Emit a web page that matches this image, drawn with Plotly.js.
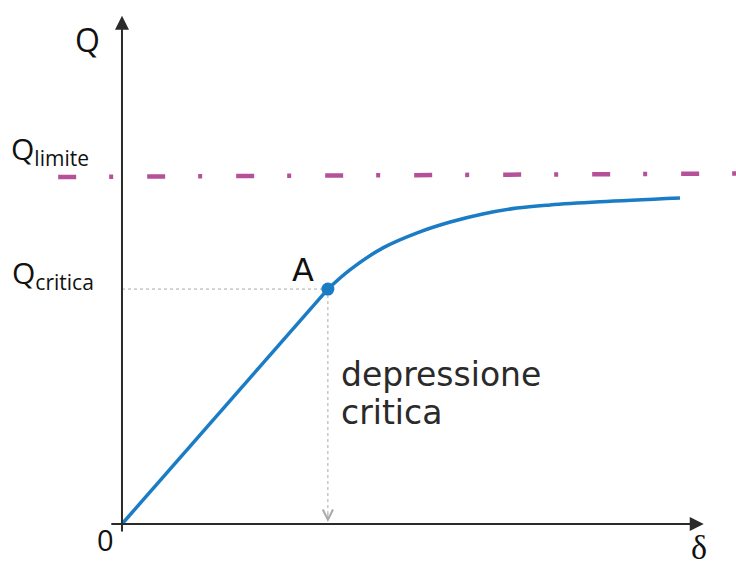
<!DOCTYPE html>
<html><head><meta charset="utf-8">
<script src="https://cdn.plot.ly/plotly-3.0.1.min.js"></script>
<style>html,body{margin:0;padding:0;background:#fff}#chart{width:736px;height:561px}</style>
</head><body><div id="chart"></div>
<script>
// Linear branch: origin to critical point A
const linearDelta = [0, 35.5];
const linearQ = [0, 67.3];
// Curved branch after A
const curveDelta = [35.5, 39.3, 45.0, 50.9, 56.6, 62.2, 68.1, 73.8, 82.4, 96.2];
const curveQ = [67.3, 72.8, 79.1, 83.4, 86.5, 88.8, 90.5, 91.4, 92.3, 93.4];
// Critical point A
const pointADelta = [35.5];
const pointAQ = [67.3];
// Limit load (Q limite) line
const limitDelta = [-11.0, 105.9];
const limitQ = [99.4, 100.4];
// Axis extents
const axisXStart = -2.1, axisXEnd = 100.3;
const axisYStart = -2.6, axisYEnd = 145.6;
const axisFoot = 0.6;

const blue = '#1b7cc6';
const gray = '#a9a9a9';
const dark = '#2a2a2a';

const traces = [
  {x: limitDelta, y: limitQ, mode: 'lines',
   line: {color: '#b5509a', width: 4.5, dash: '18px,33px,4px,34px'}},
  {x: [0, pointADelta[0]], y: [pointAQ[0], pointAQ[0]], mode: 'lines',
   line: {color: gray, width: 1, dash: 'dot'}},
  {x: [pointADelta[0], pointADelta[0]], y: [pointAQ[0], axisFoot], mode: 'lines',
   line: {color: gray, width: 1, dash: 'dot'}},
  {x: linearDelta, y: linearQ, mode: 'lines', line: {color: blue, width: 3.5}},
  {x: curveDelta, y: curveQ, mode: 'lines', line: {color: blue, width: 3.5, shape: 'spline', smoothing: 1}},
  {x: pointADelta, y: pointAQ, mode: 'markers', marker: {color: blue, size: 13}}
];

const labelFont = {family: 'Open Sans, sans-serif', size: 30, color: '#111'};
const verdanaLike = {family: 'DejaVu Sans, sans-serif', size: 33, color: '#2a2a2a'};
const annotations = [
  // y axis with arrow
  {x: 0, y: axisYEnd, ax: 0, ay: axisYStart, axref: 'x', ayref: 'y', xref: 'x', yref: 'y',
   text: '', showarrow: true, arrowhead: 2, arrowsize: 1.4, arrowwidth: 2, arrowcolor: dark},
  // x axis with arrow
  {x: axisXEnd, y: 0, ax: axisXStart, ay: 0, axref: 'x', ayref: 'y', xref: 'x', yref: 'y',
   text: '', showarrow: true, arrowhead: 2, arrowsize: 1.4, arrowwidth: 2, arrowcolor: dark},
  // open arrow head of the dotted vertical line
  {x: pointADelta[0], y: axisFoot, ax: 0, ay: -10, xref: 'x', yref: 'y',
   text: '', showarrow: true, arrowhead: 5, arrowsize: 2, arrowwidth: 1, arrowcolor: gray},
  {x: -8.45, y: 138.7, xref: 'x', yref: 'y', xanchor: 'left', yanchor: 'middle',
   text: 'Q', showarrow: false, font: {family: 'Open Sans, sans-serif', size: 32, color: '#111'}},
  {x: -19.4, y: 107.0, xref: 'x', yref: 'y', xanchor: 'left', yanchor: 'middle',
   text: 'Q<sub>limite</sub>', showarrow: false, font: labelFont},
  {x: -19.3, y: 71.6, xref: 'x', yref: 'y', xanchor: 'left', yanchor: 'middle',
   text: 'Q<sub>critica</sub>', showarrow: false, font: labelFont},
  {x: 29.0, y: 72.8, xref: 'x', yref: 'y', xanchor: 'left', yanchor: 'middle',
   text: 'A', showarrow: false, font: {family: 'DejaVu Sans, sans-serif', size: 32, color: '#111'}},
  {x: -4.66, y: -10.5, xref: 'x', yref: 'y', xanchor: 'left', yanchor: 'bottom',
   text: '0', showarrow: false, font: {family: 'Open Sans, sans-serif', size: 29, color: '#111'}},
  {x: 97.8, y: -0.86, xref: 'x', yref: 'y', xanchor: 'left', yanchor: 'top',
   text: 'δ', showarrow: false, font: {family: 'Liberation Serif, serif', size: 34, color: '#111'}},
  {x: 37.4, y: 49.1, xref: 'x', yref: 'y', xanchor: 'left', yanchor: 'top',
   text: 'depressione', showarrow: false, font: verdanaLike},
  {x: 37.4, y: 38.0, xref: 'x', yref: 'y', xanchor: 'left', yanchor: 'top',
   text: 'critica', showarrow: false, font: verdanaLike}
];

const layout = {
  width: 736, height: 561,
  margin: {l: 0, r: 0, t: 0, b: 0},
  paper_bgcolor: '#fff', plot_bgcolor: '#fff',
  showlegend: false,
  xaxis: {range: [-21.03, 105.86], visible: false, fixedrange: true},
  yaxis: {range: [-10.6, 150.1], visible: false, fixedrange: true},
  annotations: annotations
};

Plotly.newPlot('chart', traces, layout, {staticPlot: true, displayModeBar: false});
</script>
</body></html>
